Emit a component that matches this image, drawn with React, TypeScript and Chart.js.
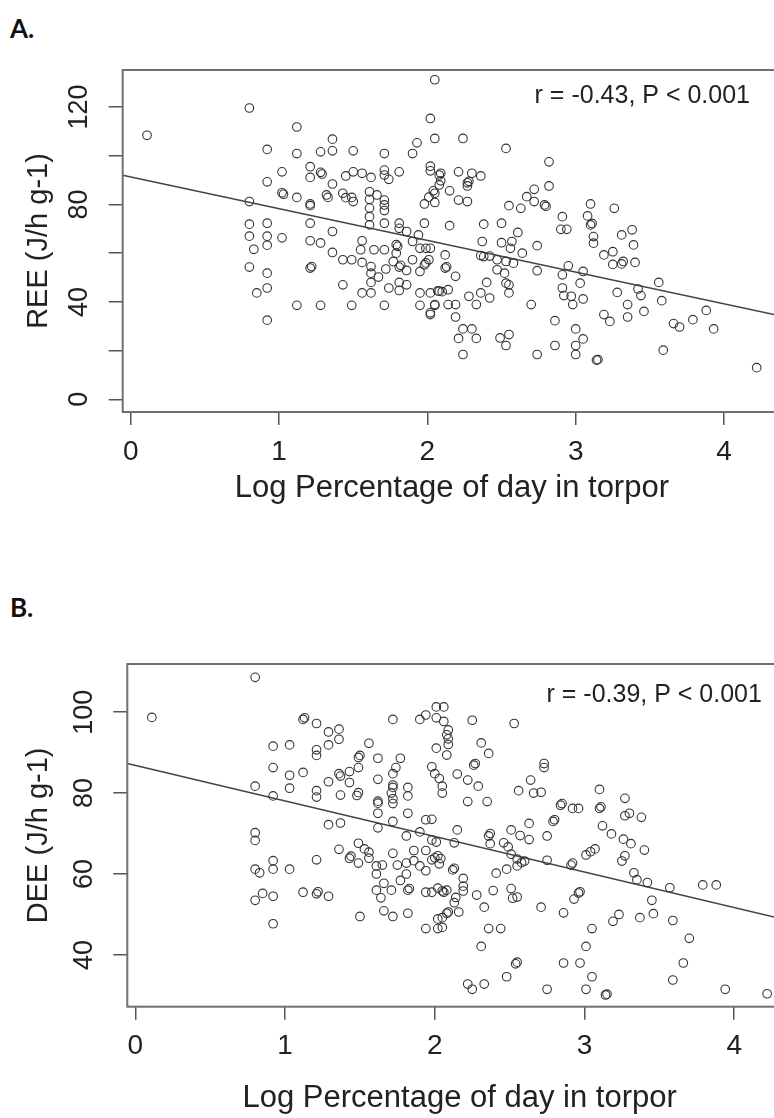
import React, { useEffect, useRef } from "react";
import { Chart, registerables } from "chart.js";

Chart.register(...registerables);

// ---------- data ----------
const reeX = [
  0.11, 0.8, 1.12, 1.36, 0.92, 1.12, 1.28, 1.36, 1.5, 1.71, 1.9, 1.93, 2.02, 2.05, 2.05,
  1.02, 1.21, 1.21, 1.28, 1.29, 0.92, 1.36, 1.45, 1.5, 1.56, 1.62, 1.71, 1.71, 1.74, 1.81, 2.02, 2.02, 2.08, 2.08,
  1.02, 1.03, 1.12, 1.21, 1.21, 1.32, 1.33, 1.43, 1.45, 1.49, 1.5, 1.61, 1.61, 1.66, 1.71, 1.71, 1.71, 1.61, 1.61, 1.61, 1.71, 1.81, 1.81, 1.86, 1.98, 1.98, 2.01, 2.05, 2.05,
  0.8, 0.8, 0.92, 0.8, 0.92, 1.02, 0.83, 0.92, 1.21, 1.21, 1.28, 1.36, 1.36, 1.56, 1.55, 1.64, 1.71, 1.79, 1.8, 1.79, 1.9, 1.94, 1.95, 1.99, 2.02,
  0.8, 0.92, 0.92, 0.85, 0.92, 1.21, 1.22, 1.12, 1.28, 1.43, 1.49, 1.43, 1.49, 1.56, 1.62, 1.62, 1.62, 1.56, 1.62, 1.67, 1.72, 1.74, 1.71, 1.77, 1.81, 1.82, 1.81, 1.81, 1.86, 1.86, 1.9, 1.95, 1.95, 1.98, 1.99, 2.01, 2.02, 1.95, 2.05, 2.02, 2.08,
  2.24, 2.53, 2.82, 2.82, 2.21, 2.27, 2.28, 2.3, 2.36, 2.27, 2.15, 2.21, 2.27, 2.09, 2.09, 2.04, 2.55, 2.63, 2.67, 2.72, 2.72, 2.79, 2.8, 2.38, 2.5, 2.61, 2.15, 2.37, 2.5, 2.57, 2.56, 2.74, 2.91, 2.9, 2.94, 3.1, 3.08, 3.1, 3.11, 3.12, 3.12, 3.26, 3.31, 3.38, 3.39, 3.19, 3.25, 2.12, 2.36, 2.42,
  2.38, 2.47, 2.53, 2.58, 2.64, 3.32, 3.25, 3.4, 3.31, 2.12, 2.13, 2.19, 2.47, 2.52, 2.53, 2.55, 2.55, 2.4, 2.36, 2.42, 2.28, 2.33, 2.14, 2.1, 2.07, 2.05, 2.02, 2.14, 2.19, 2.19, 2.24, 2.3, 2.21, 2.33, 2.24, 2.49, 2.55, 2.53, 2.7, 2.74, 2.74, 2.86, 2.86, 2.91, 2.91, 2.92, 2.95, 2.97, 2.98, 3.03, 3.05, 3.05, 3.0, 3.05, 3.0, 3.0, 3.14, 3.15, 3.19, 3.23, 3.28, 3.35, 3.35, 3.42, 3.44, 3.46, 3.56, 3.58, 3.59, 3.66, 3.7, 3.79, 3.88, 3.93, 4.22,
];
const reeY = [
  108.4, 119.6, 111.8, 106.8, 102.6, 100.9, 101.6, 102.0, 102.0, 100.9, 100.9, 105.3, 115.3, 131.2, 107.1,
  93.4, 95.5, 91.1, 93.2, 92.5, 89.3, 88.4, 91.7, 93.4, 92.8, 91.1, 94.1, 92.1, 90.3, 93.4, 95.7, 93.8, 92.1, 88.0,
  84.8, 84.2, 82.9, 79.5, 80.2, 83.9, 82.9, 84.6, 82.8, 82.9, 81.2, 85.2, 82.1, 83.9, 81.8, 79.8, 77.5, 78.5, 75.0, 71.6, 72.3, 72.3, 70.2, 68.9, 72.3, 80.2, 83.0, 84.6, 80.8,
  81.2, 71.9, 72.3, 67.0, 67.0, 66.3, 61.6, 63.3, 72.3, 65.1, 64.2, 68.9, 60.3, 65.1, 61.4, 61.4, 61.4, 63.5, 62.8, 60.0, 64.8, 67.5, 62.0, 62.0, 62.0,
  54.3, 51.8, 45.7, 43.7, 32.5, 53.9, 54.5, 38.6, 38.6, 47.0, 38.6, 57.3, 57.3, 56.2, 54.5, 51.8, 48.0, 43.7, 43.7, 50.2, 53.5, 45.7, 38.6, 56.6, 54.3, 55.0, 48.0, 44.7, 52.9, 47.0, 57.3, 52.5, 43.7, 55.2, 56.0, 57.3, 43.7, 38.6, 38.6, 34.8, 44.4,
  107.1, 103.0, 97.5, 87.6, 93.4, 88.9, 89.5, 92.8, 91.7, 87.6, 85.6, 81.8, 81.2, 92.8, 89.7, 85.6, 79.5, 78.4, 83.2, 86.2, 81.2, 79.8, 79.2, 71.9, 72.3, 68.5, 71.3, 64.8, 64.3, 64.8, 62.0, 63.1, 75.0, 69.8, 69.8, 80.2, 75.3, 71.6, 72.2, 66.8, 64.1, 78.4, 67.5, 69.6, 63.4, 59.3, 60.6, 59.3, 59.0, 58.8,
  58.6, 57.3, 56.6, 55.9, 60.0, 56.6, 55.4, 56.2, 55.6, 53.9, 54.4, 50.5, 53.2, 51.8, 47.7, 47.0, 43.7, 48.0, 43.7, 41.6, 42.3, 38.9, 45.0, 44.2, 44.5, 38.9, 35.5, 38.9, 38.9, 33.8, 28.9, 28.9, 25.0, 25.0, 18.4, 25.2, 26.6, 22.1, 38.9, 52.8, 18.4, 32.3, 22.1, 51.1, 45.7, 42.6, 54.8, 42.3, 38.9, 47.7, 52.5, 41.2, 28.9, 24.8, 22.1, 18.4, 16.1, 16.3, 34.8, 32.0, 43.9, 38.9, 33.8, 45.3, 42.6, 36.1, 48.0, 40.5, 20.2, 31.1, 29.7, 32.7, 36.5, 28.9, 13.0,
];

const deeX = [
  0.11, 0.8, 1.12, 1.13, 1.21, 1.29, 1.36, 1.36, 1.29, 1.21, 1.21, 0.92, 1.03, 1.56, 1.72, 1.9, 1.94, 2.01, 2.06, 2.01, 2.06, 2.08, 2.01, 2.08, 1.49, 1.5, 1.62, 1.77, 0.92, 1.03, 1.12, 1.29, 1.36, 1.37, 1.43, 1.43, 1.49, 1.62, 1.74, 1.72, 1.72, 1.72, 1.82, 1.82, 1.98, 2.0, 2.03, 2.05, 2.05, 0.8, 0.92, 1.03, 1.21, 1.21, 1.37, 1.48, 1.49, 1.71, 1.62, 1.62, 1.62, 1.72, 1.72, 1.82, 1.94, 1.98, 1.72, 1.62, 1.29, 1.37,
  0.8, 0.8, 1.81, 1.9, 1.98, 1.36, 1.49, 1.43, 1.44, 1.53, 1.56, 1.56, 1.49, 1.61, 1.61, 1.65, 1.72, 1.75, 1.81, 1.86, 1.86, 1.9, 1.94, 1.94, 1.98, 2.02, 2.03, 1.81, 1.77, 1.82, 1.83, 1.71, 1.66, 1.61, 1.64, 1.5, 1.66, 1.72, 1.82, 1.94, 1.98, 2.02, 2.06, 1.94, 2.02, 2.02, 2.08, 1.21, 0.8, 0.83, 0.92, 0.92, 1.03, 0.8, 0.85, 0.92, 0.92, 1.12, 1.21, 1.22, 1.29,
  2.25, 2.53, 2.09, 2.09, 2.09, 2.31, 2.36, 2.26, 2.27, 2.73, 2.73, 2.15, 2.22, 2.29, 2.64, 2.56, 2.66, 2.71, 2.22, 2.35, 3.1, 3.27, 2.84, 2.85, 2.92, 2.96, 3.1, 3.11, 3.3, 3.38, 3.27, 2.63, 2.79, 2.8,
  2.15, 2.51, 2.57, 2.63, 2.75, 3.12, 3.18, 3.26, 3.31, 3.4, 2.01, 2.13, 2.36, 2.37, 2.37, 2.46, 2.49, 2.51, 2.55, 2.58, 2.6, 2.55, 2.75, 2.91, 2.92, 3.01, 3.04, 3.07, 3.25, 3.27, 3.33, 3.35, 3.42, 3.57, 3.79, 3.88, 2.0, 2.04, 2.12, 2.13, 2.19, 2.19, 2.19, 2.41, 2.48, 2.05, 2.08, 2.28, 2.39, 2.51, 2.52, 2.55, 2.14, 2.13, 2.09, 2.16, 2.05, 2.05, 2.33, 2.71, 2.86, 2.93, 2.96, 2.97, 3.19, 3.23, 3.37, 3.45, 3.46, 3.59, 3.7, 2.36, 2.44, 3.05, 2.31, 3.01, 2.54, 2.55, 2.86, 2.97, 3.66, 2.48, 3.05, 3.59, 2.22, 2.25, 2.33, 2.75, 3.01, 3.14, 3.15, 3.94, 4.22,
];
const deeY = [
  98.7, 108.6, 98.2, 98.6, 97.2, 95.1, 95.8, 93.3, 91.9, 90.7, 89.3, 91.6, 91.9, 92.3, 98.2, 98.2, 99.3, 101.3, 101.3, 98.6, 97.7, 94.4, 91.1, 89.4, 88.8, 89.3, 88.6, 88.6, 86.3, 84.4, 85.1, 82.8, 84.8, 84.2, 85.3, 82.6, 86.3, 83.4, 86.3, 84.8, 82.0, 81.4, 81.4, 79.3, 86.5, 84.8, 83.6, 81.7, 80.0, 81.7, 79.3, 81.2, 80.6, 79.0, 79.5, 79.4, 80.1, 80.0, 77.5, 78.0, 75.0, 78.6, 77.4, 75.0, 73.4, 73.5, 73.0, 71.4, 72.2, 72.6,
  70.2, 68.3, 69.4, 70.4, 68.4, 66.1, 67.6, 63.9, 64.4, 66.2, 65.4, 63.9, 62.7, 62.0, 60.0, 62.2, 65.1, 62.2, 62.7, 65.8, 63.3, 62.0, 65.8, 60.8, 63.5, 64.5, 62.5, 60.0, 58.4, 56.0, 56.4, 56.0, 57.7, 56.0, 54.1, 49.5, 50.9, 49.5, 50.3, 55.5, 55.5, 56.5, 55.5, 46.5, 46.5, 48.9, 50.3, 63.5, 61.2, 60.3, 63.3, 61.2, 61.2, 53.5, 55.2, 54.5, 47.7, 55.5, 55.1, 55.6, 54.5,
  98.0, 97.2, 95.6, 93.4, 92.0, 92.4, 89.8, 86.9, 87.3, 87.3, 86.3, 84.7, 83.2, 81.7, 83.2, 80.6, 80.0, 80.2, 77.9, 77.9, 80.9, 78.7, 77.0, 77.4, 76.2, 76.2, 76.2, 76.6, 75.0, 74.0, 74.4, 72.5, 73.0, 73.4,
  70.9, 70.9, 69.5, 68.5, 69.4, 71.9, 69.9, 68.6, 67.5, 65.9, 67.9, 67.7, 69.4, 70.0, 67.5, 67.7, 66.7, 64.9, 63.7, 62.8, 63.2, 62.0, 63.4, 62.2, 62.7, 64.7, 65.5, 66.2, 63.2, 64.5, 60.3, 58.6, 57.9, 56.6, 57.3, 57.3, 64.0, 63.8, 61.0, 61.4, 58.9, 57.0, 55.8, 60.2, 61.2, 55.8, 56.0, 54.8, 55.9, 56.4, 54.0, 54.3, 54.2, 52.9, 50.6, 50.6, 49.2, 46.8, 51.8, 51.8, 50.4, 53.8, 55.3, 55.6, 48.3, 50.0, 49.2, 53.5, 50.2, 48.5, 44.1, 46.5, 46.5, 46.5, 42.1, 42.1, 37.8, 38.2, 38.0, 38.0, 38.0, 34.6, 34.6, 33.8, 32.8, 31.5, 32.8, 31.5, 31.5, 30.1, 30.3, 31.5, 30.4,
];

// fitted regression lines (end points)
const reeFitX = [-0.054, 4.384];
const reeFitY = [92.0, 34.2];
const deeFitX = [-0.054, 4.386];
const deeFitY = [87.3, 48.3];

// axis ticks and labels
const xTicks = [0, 1, 2, 3, 4];
const reeYTicks = [0, 20, 40, 60, 80, 100, 120];
const reeYLabels = [0, 40, 80, 120];
const deeYTicks = [40, 60, 80, 100];
const deeYLabels = [40, 60, 80, 100];

const xTitle = "Log Percentage of day in torpor";
const reeTitle = "REE (J/h g-1)";
const deeTitle = "DEE (J/h g-1)";
const reeNote = "r = -0.43, P < 0.001";
const deeNote = "r = -0.39, P < 0.001";
// position of the note (data units: right end x, baseline y)
const reeNoteAt = [4.175, 121.6];
const deeNoteAt = [4.185, 102.5];

const FONT = '"Liberation Sans", Arial, sans-serif';

const framePlugin = {
  id: "frame",
  afterDraw(chart: any, _args: any, opts: any) {
    const { ctx, chartArea: a, scales } = chart;
    ctx.save();
    ctx.strokeStyle = "#707070";
    ctx.lineWidth = 2;
    ctx.strokeRect(a.left, a.top, a.right - a.left, a.bottom - a.top);
    ctx.fillStyle = "#222";
    ctx.font = `${opts.yTickSize}px ${FONT}`;
    ctx.textAlign = "center";
    ctx.textBaseline = "middle";
    for (const v of opts.yLabels) {
      const y = scales.y.getPixelForValue(v);
      ctx.save();
      ctx.translate(a.left - opts.yLabelOffset, y);
      ctx.rotate(-Math.PI / 2);
      ctx.fillText(String(v), 0, 0);
      ctx.restore();
    }
    ctx.font = `${opts.noteSize}px ${FONT}`;
    ctx.textAlign = "right";
    ctx.textBaseline = "alphabetic";
    ctx.fillText(
      opts.note,
      scales.x.getPixelForValue(opts.noteAt[0]),
      scales.y.getPixelForValue(opts.noteAt[1])
    );
    ctx.restore();
  },
};

type PanelProps = {
  top: number;
  width: number;
  height: number;
  areaLeft: number;
  areaTop: number;
  areaBottom: number;
  padRight: number;
  xMin: number;
  xMax: number;
  yMin: number;
  yMax: number;
  xs: number[];
  ys: number[];
  fitX: number[];
  fitY: number[];
  yTicks: number[];
  yLabels: number[];
  yTitle: string;
  note: string;
  noteAt: number[];
  xTitlePad: number;
};

function Panel(p: PanelProps) {
  const ref = useRef<HTMLCanvasElement | null>(null);
  useEffect(() => {
    if (!ref.current) return;
    const chart = new Chart(ref.current, {
      type: "scatter",
      data: {
        datasets: [
          {
            data: p.xs.map((x, i) => ({ x, y: p.ys[i] })),
            pointRadius: 4.3,
            pointBorderWidth: 1.1,
            pointBackgroundColor: "rgba(0,0,0,0)",
            pointBorderColor: "#333",
            showLine: false,
          },
          {
            data: p.fitX.map((x, i) => ({ x, y: p.fitY[i] })),
            showLine: true,
            borderColor: "#444",
            borderWidth: 1.4,
            pointRadius: 0,
          },
        ],
      },
      options: {
        responsive: false,
        animation: false,
        devicePixelRatio: 1,
        layout: { padding: { top: p.areaTop, right: p.padRight, left: 0, bottom: 0 } },
        plugins: {
          legend: { display: false },
          tooltip: { enabled: false },
          frame: {
            yLabels: p.yLabels,
            yTickSize: 27,
            yLabelOffset: 43,
            note: p.note,
            noteAt: p.noteAt,
            noteSize: 25,
          },
        } as any,
        scales: {
          x: {
            type: "linear",
            min: p.xMin,
            max: p.xMax,
            afterBuildTicks: (s: any) => {
              s.ticks = xTicks.map((v) => ({ value: v }));
            },
            afterFit: (s: any) => {
              s.height = p.height - p.areaBottom;
            },
            border: { display: false },
            grid: {
              drawOnChartArea: false,
              drawTicks: true,
              tickLength: 13,
              color: "#555",
              lineWidth: 1.5,
            },
            ticks: {
              color: "#222",
              font: { family: FONT, size: 28 },
              padding: 10,
              maxRotation: 0,
              autoSkip: false,
            },
            title: {
              display: true,
              text: xTitle,
              color: "#222",
              font: { family: FONT, size: 31 },
              padding: { top: 0, bottom: p.xTitlePad },
            },
          },
          y: {
            type: "linear",
            min: p.yMin,
            max: p.yMax,
            afterBuildTicks: (s: any) => {
              s.ticks = p.yTicks.map((v) => ({ value: v }));
            },
            afterFit: (s: any) => {
              s.width = p.areaLeft;
            },
            border: { display: false },
            grid: {
              drawOnChartArea: false,
              drawTicks: true,
              tickLength: 14,
              color: "#555",
              lineWidth: 1.5,
            },
            ticks: { display: false },
            title: {
              display: true,
              text: p.yTitle,
              color: "#222",
              font: { family: FONT, size: 29 },
              padding: { top: 22, bottom: 0 },
            },
          },
        },
      },
      plugins: [framePlugin],
    } as any);
    return () => chart.destroy();
  }, []);
  return (
    <canvas
      ref={ref}
      width={p.width}
      height={p.height}
      style={{ position: "absolute", left: 0, top: p.top, width: p.width, height: p.height }}
    />
  );
}

const labelStyle: React.CSSProperties = {
  position: "absolute",
  left: 10,
  fontFamily: 'Lato, "Open Sans", sans-serif',
  fontWeight: 700,
  fontSize: 26,
  lineHeight: "26px",
  color: "#111",
};

export default function App() {
  return (
    <div
      style={{
        position: "absolute",
        left: 0,
        top: 0,
        width: 774,
        height: 1118,
        overflow: "hidden",
        background: "#fff",
      }}
    >
      <div style={{ ...labelStyle, top: 15 }}>A.</div>
      <div style={{ ...labelStyle, top: 594 }}>B.</div>
      <Panel
        top={0}
        width={790}
        height={560}
        areaLeft={122.7}
        areaTop={70}
        areaBottom={412}
        padRight={9}
        xMin={-0.054}
        xMax={4.384}
        yMin={-5.2}
        yMax={135.2}
        xs={reeX}
        ys={reeY}
        fitX={reeFitX}
        fitY={reeFitY}
        yTicks={reeYTicks}
        yLabels={reeYLabels}
        yTitle={reeTitle}
        note={reeNote}
        noteAt={reeNoteAt}
        xTitlePad={53}
      />
      <Panel
        top={560}
        width={800}
        height={558}
        areaLeft={127.3}
        areaTop={104}
        areaBottom={446.7}
        padRight={8}
        xMin={-0.054}
        xMax={4.386}
        yMin={27.2}
        yMax={111.9}
        xs={deeX}
        ys={deeY}
        fitX={deeFitX}
        fitY={deeFitY}
        yTicks={deeYTicks}
        yLabels={deeYLabels}
        yTitle={deeTitle}
        note={deeNote}
        noteAt={deeNoteAt}
        xTitlePad={1}
      />
    </div>
  );
}
